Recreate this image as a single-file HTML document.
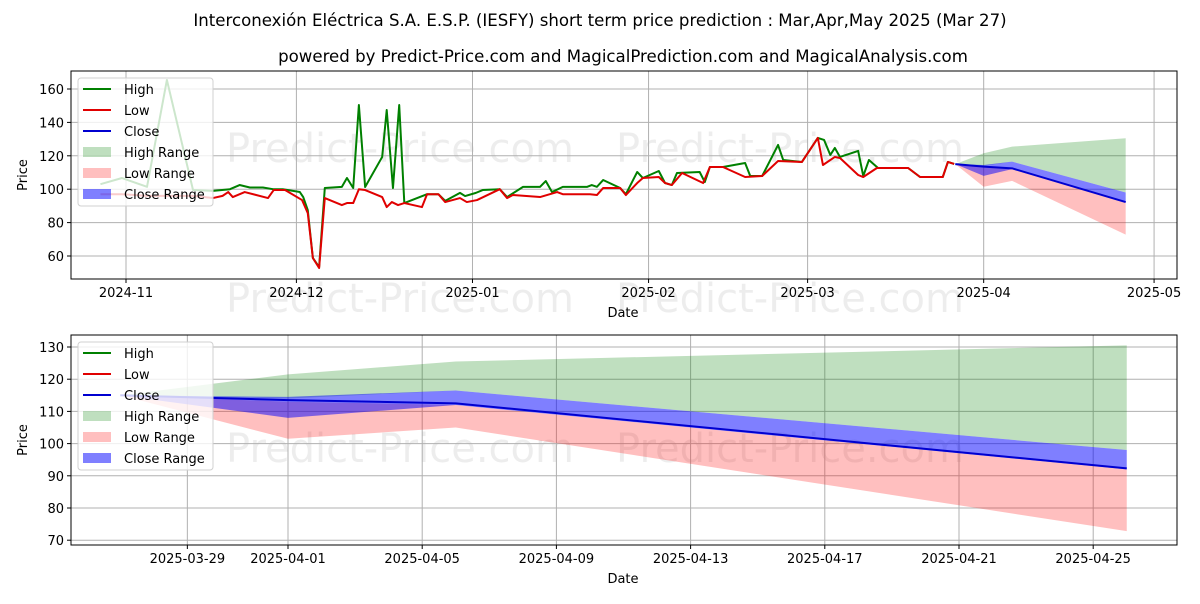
<!DOCTYPE html>
<html><head><meta charset="utf-8"><style>
body{margin:0;background:#fff;font-family:"DejaVu Sans","Liberation Sans",sans-serif}
svg text{font-family:"DejaVu Sans","Liberation Sans",sans-serif;fill:#000}
</style></head><body>
<svg id="c" width="1200" height="600" viewBox="0 0 1200 600" xmlns="http://www.w3.org/2000/svg">
<rect width="1200" height="600" fill="#fff"/>
<text x="600" y="26" font-size="16.6" text-anchor="middle">Interconexión Eléctrica S.A. E.S.P. (IESFY) short term price prediction : Mar,Apr,May 2025 (Mar 27)</text>
<text x="623" y="62" font-size="16.6" text-anchor="middle">powered by Predict-Price.com and MagicalPrediction.com and MagicalAnalysis.com</text>
</svg>
<script>
// day numbers relative to 2024-11-01
const highDays=[-4.5,-0.7,3.7,7.2,11.8,15.3,18.3,20,21.8,24.1,25.9,27.6,30.6,31.2,32,32.9,34,35,38,38.9,40,41,42.1,45.1,45.9,47,48.1,49,53,55,56.2,58.8,59.7,61.6,62.8,65.8,67.1,69.9,72.9,73.9,75,76.9,81.2,82,82.9,84,87,88,90,91,93.8,94.9,96.1,97,101,101.9,102.8,105.1,109,109.9,112,114.8,115.7,119,121.8,122.9,124,124.8,125.7,128.9,129.8,130.8,132.4,137.7,139.8,143.8,144.7,145.8];
const highVals=[103,106.7,101.4,165.4,99.5,99,100,102.5,101,101,100,100,98.3,95.3,87.5,58.8,53.4,100.7,101.4,106.7,100.7,150.4,101.3,119.3,147.4,100.7,150.4,91.7,97,97,93,97.8,95.9,97.8,99.5,100,95.3,101.4,101.4,104.9,98.3,101.4,101.4,102.5,101.4,105.5,100.7,97,110.3,106.7,110.9,103.7,102.5,109.7,110.3,104.3,113.3,113.3,115.7,107.9,107.9,126.5,117.5,116.3,130.7,129.5,120.5,124.7,119.3,122.9,107.9,117.5,112.7,112.7,107.3,107.3,116.3,115.1];
const lowDays=[-4.5,-0.7,3.7,7.2,11.8,15.3,17,18,18.8,20.9,25,26,28,31,32,32.9,34,35,38,38.9,40,41,42.1,45.1,45.9,46.8,47.9,49,52.1,53,55,56.2,58.8,60,61.8,65.8,67.1,68.1,72.9,75.9,76.9,81.7,82.9,84,87,88,90,91,93.8,94.9,96.1,97.9,101.6,102.8,105.1,109,112,114.8,119,121.8,122.7,124.8,125.7,128.9,129.8,132.2,137.7,139.8,143.8,144.7,145.8];
const lowVals=[97,97,96,96,96,94.7,96,98.3,95.3,98.3,94.7,99.5,99.5,93.5,85.7,58.8,52.8,94.7,90.5,91.7,91.7,100,99.5,95.3,89.3,92.3,90.5,91.7,89.3,97,97,92.3,94.7,92.3,93.5,100,94.7,96.5,95.3,98.3,97,97,96.5,100.7,100.7,96.5,103.7,106.7,107.3,103.7,102.5,109.7,103.7,113.3,113.3,107.3,107.9,116.9,116.3,130.7,114.5,119.3,118.7,108.5,107.3,112.7,112.7,107.3,107.3,116.3,115.1];
// forecast: 2025-03-27, 04-01, 04-06, 04-26
const fcDays=[146,151,156,176];
const fcClose=[115,113.5,112.5,92.3];
const fcHighUp=[115,121.5,125.5,130.5];
const fcHighLo=[115,114,116.5,98];
const fcLowUp=[115,113,112,92];
const fcLowLo=[115,101.5,105,72.8];
const fcCloseUp=[115,114.5,116.5,98];
const fcCloseLo=[115,108,112,92];
const topXTicks=['2024-11','2024-12','2025-01','2025-02','2025-03','2025-04','2025-05'];
const topXTickDays=[0,30,61,92,120,151,181];
const topYTicks=[60,80,100,120,140,160];
const botXTicks=['2025-03-29','2025-04-01','2025-04-05','2025-04-09','2025-04-13','2025-04-17','2025-04-21','2025-04-25'];
const botXTickDays=[148,151,155,159,163,167,171,175];
const botYTicks=[70,80,90,100,110,120,130];

const NS='http://www.w3.org/2000/svg';
const svg=document.getElementById('c');
function mk(tag,attrs,parent){const e=document.createElementNS(NS,tag);for(const k in attrs)e.setAttribute(k,attrs[k]);(parent||svg).appendChild(e);return e;}

function panel(cfg){
  const g=mk('g',{});
  
  
  const X=cfg.X,Y=cfg.Y;
  cfg.wm.forEach(w=>{const t=mk('text',{x:w[0],y:w[1],'font-size':40,'text-anchor':'middle'},g);t.style.fill='rgba(0,0,0,0.07)';t.textContent='Predict-Price.com';
    
    });
  cfg.xtd.forEach((d,i)=>{const x=X(d);
    const l=mk('line',{x1:x,x2:x,y1:cfg.t,y2:cfg.b,stroke:'#b0b0b0','stroke-width':1},g);
    
    
    mk('line',{x1:x,x2:x,y1:cfg.b,y2:cfg.b+4,stroke:'#000'},g);
    const t=mk('text',{x:x,y:cfg.b+18,'font-size':13,'text-anchor':'middle'},g);t.textContent=cfg.xt[i];
    
    });
  cfg.yt.forEach(v=>{const y=Y(v);
    const l=mk('line',{x1:cfg.l,x2:cfg.r,y1:y,y2:y,stroke:'#b0b0b0','stroke-width':1},g);
    
    
    mk('line',{x1:cfg.l-4,x2:cfg.l,y1:y,y2:y,stroke:'#000'},g);
    const t=mk('text',{x:cfg.l-7,y:y+5,'font-size':13,'text-anchor':'end'},g);t.textContent=v;
    
    });
  function band(up,lo,fill,name){let p=fcDays.map((d,i)=>X(d)+','+Y(up[i]));for(let i=fcDays.length-1;i>=0;i--)p.push(X(fcDays[i])+','+Y(lo[i]));
    const e=mk('polygon',{points:p.join(' '),fill:fill},g);
    
    }
  band(fcHighUp,fcHighLo,'rgba(0,128,0,0.25)','high-range-band');
  band(fcLowUp,fcLowLo,'rgba(255,0,0,0.25)','low-range-band');
  band(fcCloseUp,fcCloseLo,'rgba(0,0,255,0.5)','close-range-band');
  function line(ds,vs,col,name){const e=mk('polyline',{points:ds.map((d,i)=>X(d)+','+Y(vs[i])).join(' '),fill:'none',stroke:col,'stroke-width':2,'stroke-linejoin':'round'},g);
    
    }
  if(cfg.hist){line(highDays,highVals,'#008000','high-line');line(lowDays,lowVals,'#e00000','low-line');}
  line(fcDays,fcClose,'#0000d0','close-line');
  const fr=mk('rect',{x:cfg.l,y:cfg.t,width:cfg.r-cfg.l,height:cfg.b-cfg.t,fill:'none',stroke:'#000','stroke-width':1},g);
  
  
  const yl=mk('text',{x:0,y:0,'font-size':13,'text-anchor':'middle',transform:`translate(27,${(cfg.t+cfg.b)/2}) rotate(-90)`},g);yl.textContent='Price';
  
  
  const xl=mk('text',{x:(cfg.l+cfg.r)/2-1,y:cfg.b+38,'font-size':13,'text-anchor':'middle'},g);xl.textContent='Date';
  
  
  const lg=mk('g',{},g);
  
  
  const lx=cfg.l+7,ly=cfg.t+7;
  mk('rect',{x:lx,y:ly,width:135,height:128,rx:3,fill:'rgba(255,255,255,0.8)',stroke:'#d0d0d0'},lg);
  const items=[['High','l','#008000'],['Low','l','#e00000'],['Close','l','#0000d0'],['High Range','p','rgba(0,128,0,0.25)'],['Low Range','p','rgba(255,0,0,0.25)'],['Close Range','p','rgba(0,0,255,0.5)']];
  items.forEach((it,i)=>{const y=ly+11+i*21;
    const e=mk('g',{},lg);
    
    
    if(it[1]=='l')mk('line',{x1:lx+5,x2:lx+33,y1:y,y2:y,stroke:it[2],'stroke-width':2},e);
    else mk('rect',{x:lx+5,y:y-5,width:28,height:10,fill:it[2]},e);
    const t=mk('text',{x:lx+46,y:y+5,'font-size':13},e);t.textContent=it[0];});
}
panel({name:'history-panel',l:71,r:1177,t:71,b:279,
  X:d=>126+d*5.68,Y:v=>89+(160-v)*1.67,xt:topXTicks,xtd:topXTickDays,yt:topYTicks,hist:true,
  wm:[[400,162],[790,162],[400,312],[790,312]]});
panel({name:'forecast-panel',l:71,r:1177,t:335,b:545,
  X:d=>288+(d-151)*33.55,Y:v=>347+(130-v)*3.22,xt:botXTicks,xtd:botXTickDays,yt:botYTicks,hist:false,
  wm:[[400,462],[790,462]]});
</script>
</body></html>
